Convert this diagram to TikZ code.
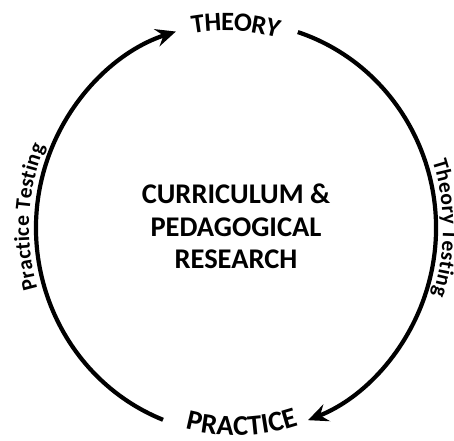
\documentclass[tikz,border=0pt]{standalone}
\usepackage{fontspec}
\setmainfont{Carlito}
\usetikzlibrary{arrows.meta,decorations.text,calc}
\tikzset{
  ring/.style={line width=4.2pt, black},
  ringarrow/.style={ring, -{Stealth[length=20pt,width=18pt,inset=7pt]}},
  centertext/.style={align=center, font=\bfseries\fontsize{28.5}{32.5}\selectfont},
}
\begin{document}
\begin{tikzpicture}[x=1pt,y=1pt]
\useasboundingbox (0,0) rectangle (454,440);
\clip (0,0) rectangle (454,440);
\coordinate (c) at (236,212);
\coordinate (pl) at ($(c)+(248.6:200pt and 206pt)$);
\coordinate (tl) at ($(c)+(107.5:200pt and 206pt)$);
\coordinate (tr) at ($(c)+(72:200pt and 206pt)$);
\coordinate (pr) at ($(c)+(-68.9:200pt and 206pt)$);
% arcs
\draw[ringarrow] (pl) arc[start angle=248.6, end angle=107.5, x radius=200pt, y radius=206pt];
\draw[ringarrow] (tr) arc[start angle=72, end angle=-68.9, x radius=200pt, y radius=206pt];
% curved labels
\begin{scope}[rotate around={-3:(236,418)}]
\path[decorate, decoration={text along path, text align=center, raise=-9pt,
  text={|\bfseries\fontsize{26.5}{26.5}\selectfont|THEORY}}]
  (107.4,369.8) arc[start angle=130, end angle=50, x radius=200pt, y radius=206pt];
\end{scope}
\path[decorate, decoration={text along path, text align=center, raise=-1.5pt,
  text={|\bfseries\fontsize{28.5}{28.5}\selectfont|PRACTICE}}]
  ($(c)+(230:200pt and 206pt)$) arc[start angle=230, end angle=313.4, x radius=200pt, y radius=206pt];
\path[decorate, decoration={text along path, text align=center, raise=7pt,
  text={|\bfseries\fontsize{21.5}{21.5}\selectfont|Practice Testing}}]
  ($(c)+(217:200pt and 206pt)$) arc[start angle=217, end angle=137, x radius=200pt, y radius=206pt];
\path[decorate, decoration={text along path, text align=center, raise=7pt,
  text={|\bfseries\fontsize{21.5}{21.5}\selectfont|Theory Testing}}]
  ($(c)+(40:200pt and 206pt)$) arc[start angle=40, end angle=-40, x radius=200pt, y radius=206pt];
\node[centertext] (center) at (236,213.5) {CURRICULUM \&\\PEDAGOGICAL\\RESEARCH};
\end{tikzpicture}
\end{document}
